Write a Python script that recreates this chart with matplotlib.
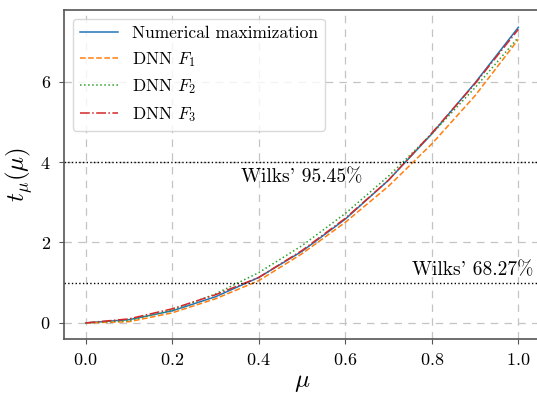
import numpy as np
import matplotlib
matplotlib.use("Agg")
import matplotlib.pyplot as plt

plt.rcParams['font.family'] = 'serif'
plt.rcParams['font.serif'] = ['cmr10']
plt.rcParams['mathtext.fontset'] = 'cm'
plt.rcParams['axes.formatter.use_mathtext'] = True

# mu grid and test statistic curves
mu = [0.0, 0.1, 0.2, 0.3, 0.4, 0.5, 0.6, 0.7, 0.8, 0.9, 1.0]
t_num = [0.0, 0.08, 0.30, 0.65, 1.13, 1.78, 2.58, 3.55, 4.70, 5.97, 7.35]
t_f1 = [0.0, 0.03, 0.25, 0.60, 1.05, 1.72, 2.50, 3.40, 4.45, 5.65, 7.05]
t_f2 = [0.0, 0.06, 0.32, 0.72, 1.25, 1.92, 2.72, 3.65, 4.70, 5.85, 7.10]
t_f3 = [0.0, 0.10, 0.35, 0.70, 1.13, 1.80, 2.60, 3.55, 4.72, 5.95, 7.30]

wilks_lvls = [4, 1]
wilks_txt = ["Wilks' 95.45%", "Wilks' 68.27%"]

fig = plt.figure(figsize=(5.37, 3.93), dpi=100)
ax = fig.add_axes([64/537, 54/393, 476/537, 329/393])

ax.plot(mu, t_num, color='C0', lw=1.1, label='Numerical maximization')
ax.plot(mu, t_f1, color='C1', lw=1.1, ls='--', label='DNN $F_1$')
ax.plot(mu, t_f2, color='C2', lw=1.1, ls=':', label='DNN $F_2$')
ax.plot(mu, t_f3, color='C3', lw=1.1, ls='-.', label='DNN $F_3$')

for lv in wilks_lvls:
    ax.axhline(lv, color='k', ls=':', lw=1.0)
ax.text(0.36, 3.85, wilks_txt[0], fontsize=14, va='top')
ax.text(0.755, 1.08, wilks_txt[1], fontsize=14, va='bottom')

ax.grid(True, ls=(0, (6, 5)), color='#c4c4c4', lw=0.9)
ax.set_xlim(-0.05, 1.05)
ax.set_ylim(-0.4, 7.78)
ax.set_xticks([0.0, 0.2, 0.4, 0.6, 0.8, 1.0])
ax.set_yticks([0, 2, 4, 6])
ax.tick_params(labelsize=13, pad=6, color='#555555')
ax.set_xlabel(r'$\mu$', fontsize=18, labelpad=3)
ax.set_ylabel(r'$t_\mu(\mu)$', fontsize=18, labelpad=4)
for s in ax.spines.values():
    s.set_color('#555555')
    s.set_linewidth(1.2)

leg = ax.legend(loc='upper left', fontsize=12.5, handlelength=2.2, framealpha=0.8)
leg.get_frame().set_edgecolor('#d0d0d0')

fig.savefig('out.png', dpi=100)
